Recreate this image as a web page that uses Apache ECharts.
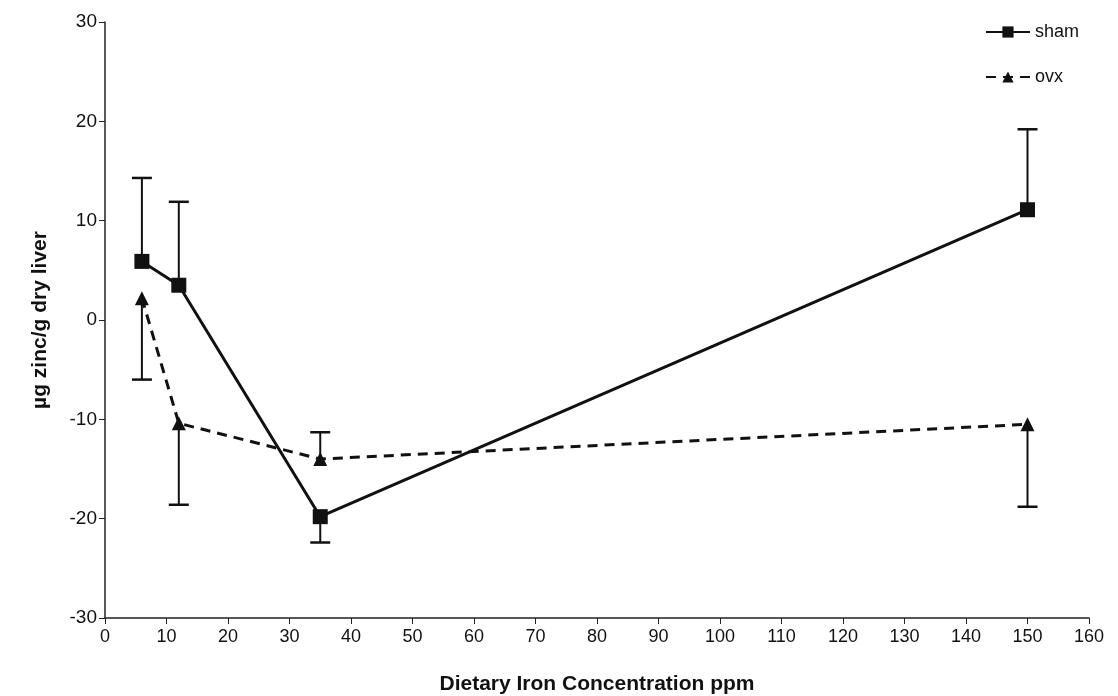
<!DOCTYPE html>
<html>
<head>
<meta charset="utf-8">
<script src="https://cdn.jsdelivr.net/npm/echarts@6/dist/echarts.min.js"></script>
<style>html,body{margin:0;padding:0;background:#fff}#c{width:1118px;height:696px}</style>
</head>
<body>
<div id="c"></div>
<script>
const ironPpm = [6, 12, 35, 150];
const shamValues = [5.9, 3.5, -19.8, 11.1];
const shamErrEnd = [14.3, 11.9, -22.4, 19.2];
const ovxValues = [2.2, -10.4, -14.0, -10.5];
const ovxErrEnd = [-6.0, -18.6, -11.3, -18.8];
const xTicks = [0, 160, 10];
const yTicks = [-30, 30, 10];

const FONT = '"Liberation Sans", Arial, sans-serif';

function errData(vals, ends) {
  return ironPpm.map((x, i) => [x, vals[i], ends[i]]);
}
function errRender(params, api) {
  const x = api.value(0);
  const p0 = api.coord([x, api.value(1)]);
  const p1 = api.coord([x, api.value(2)]);
  const hw = 10;
  return {
    type: 'group',
    children: [
      { type: 'line', shape: { x1: p0[0], y1: p0[1], x2: p1[0], y2: p1[1] }, style: { stroke: '#111', lineWidth: 2 } },
      { type: 'line', shape: { x1: p1[0] - hw, y1: p1[1], x2: p1[0] + hw, y2: p1[1] }, style: { stroke: '#111', lineWidth: 2.5 } }
    ]
  };
}

const chart = echarts.init(document.getElementById('c'));
chart.setOption({
  animation: false,
  backgroundColor: '#fff',
  grid: { left: 105, right: 29, top: 22, bottom: 78, containLabel: false, outerBoundsMode: 'none' },
  legend: {
    orient: 'vertical',
    right: 34,
    top: 18,
    itemGap: 27,
    itemWidth: 44,
    itemHeight: 14,
    textStyle: { fontFamily: FONT, fontSize: 18, color: '#111' },
    data: ['sham', 'ovx']
  },
  xAxis: {
    type: 'value',
    min: xTicks[0], max: xTicks[1], interval: xTicks[2],
    name: 'Dietary Iron Concentration ppm',
    nameLocation: 'middle',
    nameGap: 56,
    nameTextStyle: { fontFamily: FONT, fontSize: 21, fontWeight: 'bold', color: '#111' },
    axisLine: { onZero: false, lineStyle: { color: '#222', width: 1.5 } },
    axisTick: { show: true, length: 6, lineStyle: { color: '#222' } },
    axisLabel: { fontFamily: FONT, fontSize: 18, color: '#111', margin: 10 },
    splitLine: { show: false }
  },
  yAxis: {
    type: 'value',
    min: yTicks[0], max: yTicks[1], interval: yTicks[2],
    name: 'µg zinc/g dry liver',
    nameLocation: 'middle',
    nameGap: 54,
    nameTextStyle: { fontFamily: FONT, fontSize: 21, fontWeight: 'bold', color: '#111' },
    axisLine: { show: true, onZero: false, lineStyle: { color: '#222', width: 1.5 } },
    axisTick: { show: true, length: 6, lineStyle: { color: '#222' } },
    axisLabel: { fontFamily: FONT, fontSize: 19, color: '#111', margin: 8 },
    splitLine: { show: false }
  },
  series: [
    {
      name: 'shamErr', type: 'custom', renderItem: errRender,
      data: errData(shamValues, shamErrEnd), z: 1, silent: true
    },
    {
      name: 'ovxErr', type: 'custom', renderItem: errRender,
      data: errData(ovxValues, ovxErrEnd), z: 1, silent: true
    },
    {
      name: 'sham', type: 'line',
      data: ironPpm.map((x, i) => [x, shamValues[i]]),
      symbol: 'rect', symbolSize: 15,
      lineStyle: { color: '#111', width: 3 },
      itemStyle: { color: '#111' },
      z: 3
    },
    {
      name: 'ovx', type: 'line',
      data: ironPpm.map((x, i) => [x, ovxValues[i]]),
      symbol: 'triangle', symbolSize: 14,
      lineStyle: { color: '#111', width: 3, type: [10, 7] },
      itemStyle: { color: '#111' },
      z: 3
    }
  ]
});
</script>
</body>
</html>
